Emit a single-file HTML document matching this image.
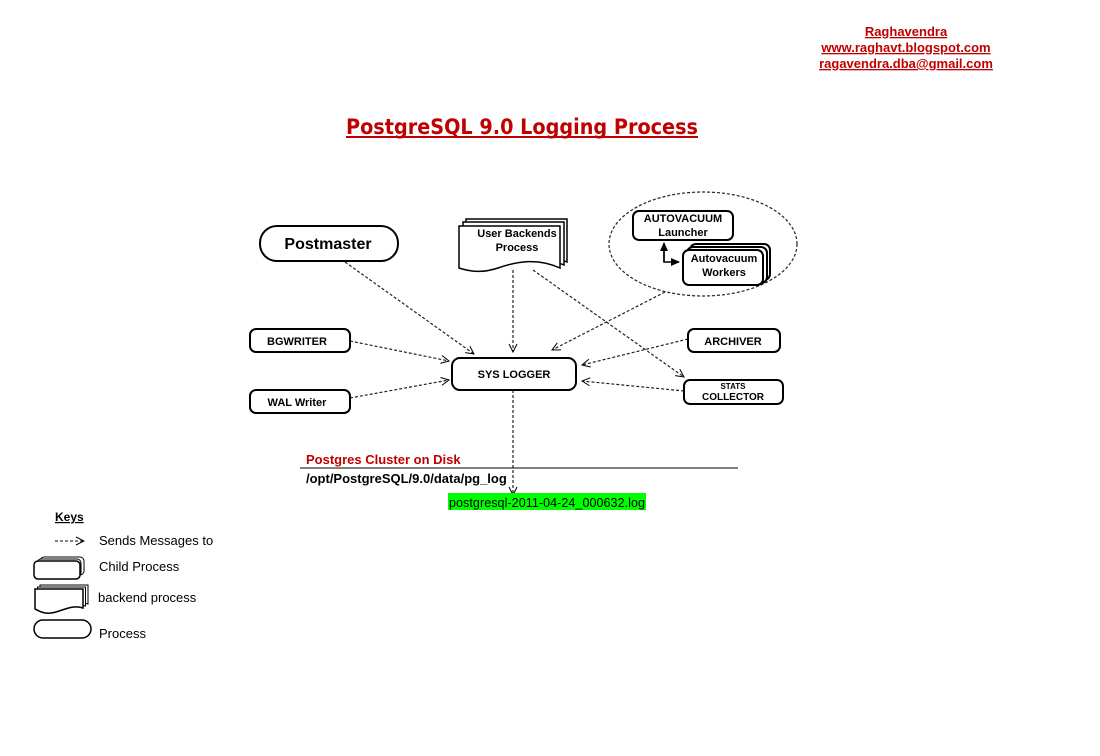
<!DOCTYPE html>
<html><head><meta charset="utf-8"><style>
html,body{margin:0;padding:0;background:#fff;}
svg{display:block;font-family:"Liberation Sans",Arial,sans-serif;}
</style></head><body>
<svg width="1100" height="756" viewBox="0 0 1100 756" xmlns="http://www.w3.org/2000/svg">
<defs>
<marker id="a" markerWidth="10" markerHeight="10" refX="9" refY="5" orient="auto" markerUnits="userSpaceOnUse">
<path d="M1,1 L9,5 L1,9" fill="none" stroke="#000" stroke-width="1"/>
</marker>
<marker id="s" markerWidth="10" markerHeight="10" refX="8" refY="5" orient="auto" markerUnits="userSpaceOnUse">
<path d="M0,1 L9,5 L0,9 Z" fill="#000"/>
</marker>
</defs>
<g fill="#c00000" font-weight="bold" font-size="13" text-anchor="middle" text-decoration="underline">
<text x="906" y="36">Raghavendra</text>
<text x="906" y="52">www.raghavt.blogspot.com</text>
<text x="906" y="68">ragavendra.dba@gmail.com</text>
</g>
<text x="346" y="134" fill="#c00000" font-family="DejaVu Sans,sans-serif" font-weight="bold" font-size="21" textLength="352" lengthAdjust="spacingAndGlyphs">PostgreSQL 9.0 Logging Process</text>
<line x1="346" y1="137" x2="698" y2="137" stroke="#c00000" stroke-width="2"/>

<g stroke="#222" stroke-width="1.2" stroke-dasharray="3,2" fill="none" marker-end="url(#a)">
<line x1="345" y1="262" x2="474" y2="354"/>
<line x1="513" y1="270" x2="513" y2="352"/>
<line x1="533" y1="270" x2="684" y2="377"/>
<line x1="665" y1="292" x2="552" y2="350"/>
<line x1="350" y1="341" x2="449" y2="361"/>
<line x1="350" y1="398" x2="449" y2="380"/>
<line x1="688" y1="339" x2="582" y2="365"/>
<line x1="684" y1="391" x2="582" y2="381"/>
<line x1="513" y1="390" x2="513" y2="495"/>
</g>

<ellipse cx="703" cy="244" rx="94" ry="52" fill="none" stroke="#222" stroke-width="1.2" stroke-dasharray="3,2"/>

<g fill="#fff" stroke="#000" stroke-width="2">
<rect x="260" y="226" width="138" height="35" rx="17"/>
<rect x="633" y="211" width="100" height="29" rx="6"/>
<rect x="690" y="244" width="80" height="36" rx="6"/>
<rect x="687" y="247" width="80" height="36" rx="6"/>
<rect x="683" y="250" width="80" height="35" rx="6"/>
<rect x="250" y="329" width="100" height="23" rx="6"/>
<rect x="250" y="390" width="100" height="23" rx="6"/>
<rect x="688" y="329" width="92" height="23" rx="6"/>
<rect x="684" y="380" width="99" height="24" rx="6"/>
<rect x="452" y="358" width="124" height="32" rx="8"/>
</g>
<g fill="#fff" stroke="#000" stroke-width="1.5">
<path d="M466,219 H567 V262 C545,252 525,255 505,262 C490,267 478,266 466,262 Z"/>
<path d="M463,222 H564 V265 C542,255 522,258 502,265 C487,270 475,269 463,265 Z"/>
<path d="M459,226 H560 V268 C538,258 518,261 498,268 C483,273 471,272 459,268 Z"/>
</g>
<g stroke="#000" stroke-width="1.5" fill="none">
<polyline points="664,250 664,262 679,262" marker-end="url(#s)"/>
<line x1="664" y1="262" x2="664" y2="243" marker-end="url(#s)"/>
</g>

<g font-weight="bold" text-anchor="middle" fill="#000">
<text x="328" y="249" font-size="16">Postmaster</text>
<text x="517" y="237" font-size="11">User Backends</text>
<text x="517" y="251" font-size="11">Process</text>
<text x="683" y="222" font-size="11">AUTOVACUUM</text>
<text x="683" y="236" font-size="11">Launcher</text>
<text x="724" y="262" font-size="11">Autovacuum</text>
<text x="724" y="276" font-size="11">Workers</text>
<text x="297" y="345" font-size="11">BGWRITER</text>
<text x="297" y="406" font-size="11">WAL Writer</text>
<text x="733" y="345" font-size="11">ARCHIVER</text>
<text x="733" y="389" font-size="8">STATS</text>
<text x="733" y="400" font-size="10">COLLECTOR</text>
<text x="514" y="378" font-size="11">SYS LOGGER</text>
</g>

<text x="306" y="464" fill="#c00000" font-weight="bold" font-size="13">Postgres Cluster on Disk</text>
<line x1="300" y1="468" x2="738" y2="468" stroke="#000" stroke-width="1"/>
<text x="306" y="483" font-weight="bold" font-size="13">/opt/PostgreSQL/9.0/data/pg_log</text>
<rect x="448" y="493" width="198" height="17" fill="#00ff00"/>
<text x="449" y="507" font-size="12.5" textLength="196">postgresql-2011-04-24_000632.log</text>

<text x="55" y="521" font-weight="bold" font-size="12" text-decoration="underline">Keys</text>
<line x1="55" y1="541" x2="84" y2="541" stroke="#000" stroke-dasharray="3,2" marker-end="url(#a)"/>
<g font-size="13" fill="#000">
<text x="99" y="545">Sends Messages to</text>
<text x="99" y="571">Child Process</text>
<text x="98" y="602">backend process</text>
<text x="99" y="638">Process</text>
</g>
<g fill="#fff" stroke="#000" stroke-width="1">
<rect x="40" y="557" width="44" height="18" rx="4"/>
<rect x="37" y="559" width="44" height="18" rx="4"/>
<rect x="34" y="561" width="46" height="18" rx="4" stroke-width="1.5"/>
<path d="M40,585 H88 V604 C76,600 66,608 56,609 C49,610 44,607 40,605 Z"/>
<path d="M37.5,587 H85.5 V606 C73,602 63,610 53,611 C46,612 41,609 37.5,607 Z"/>
<path d="M35,589 H83 V608 C71,604 61,612 51,613 C44,614 39,611 35,609 Z" stroke-width="1.5"/>
<rect x="34" y="620" width="57" height="18" rx="9" stroke-width="1.5"/>
</g>
</svg>
</body></html>
